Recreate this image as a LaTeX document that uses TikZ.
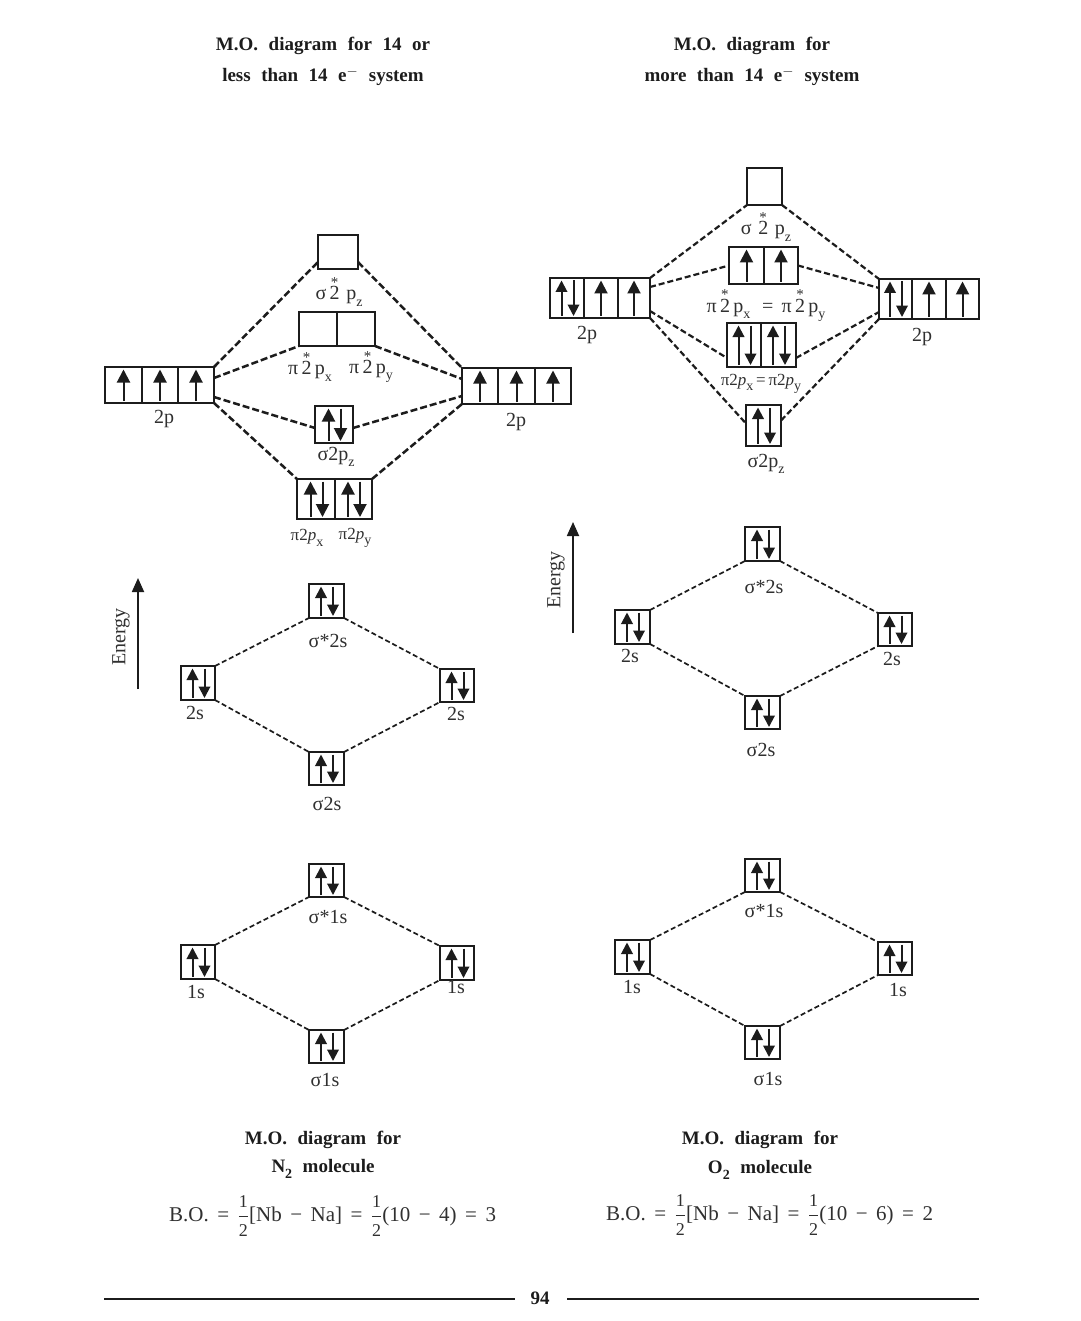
\documentclass[tikz,border=0pt]{standalone}
\usepackage{fontspec}
\setmainfont{Liberation Serif}
\usetikzlibrary{arrows.meta}
\definecolor{ink}{HTML}{1C1C1C}
\definecolor{txt}{HTML}{303030}
\newcommand\headsp{\spaceskip=10.5pt\relax}
\newcommand\bondsp{\spaceskip=8.5pt\relax}
\tikzset{x=1pt,y=-1pt,
 cellbox/.style={draw=ink,line width=2.8pt,inner sep=0pt,outer sep=0pt,anchor=north west},
 elec/.style={draw=ink,line width=2pt,-{Triangle[width=#1pt,length=#1pt]}},
 link/.style={draw=ink,line width=2.2pt,dash pattern=on 6pt off 3pt},
 linkb/.style={draw=ink,line width=2.5pt,dash pattern=on 7pt off 3pt},
 linkc/.style={draw=ink,line width=1.7pt,dash pattern=on 5pt off 2.8pt},
 lab/.style={text=txt,font=\fontsize{20}{22}\selectfont,inner sep=0pt},
 labs/.style={text=txt,font=\fontsize{17}{19}\selectfont,inner sep=0pt},
 head/.style={text=ink,font=\bfseries\fontsize{19}{21}\selectfont,inner sep=0pt,execute at begin node=\headsp},
 bond/.style={text=txt,font=\fontsize{21}{23}\selectfont,inner sep=0pt,execute at begin node=\bondsp},
 axis/.style={draw=ink,line width=1.8pt,-{Triangle[width=12pt,length=14pt]}},
 rulefoot/.style={draw=ink,line width=1.4pt}
}
% \cellnode{name}{x1}{y1}{x2}{y2}{e|u|p}
\newcommand\cellnode[6]{%
 \pgfmathsetmacro\cw{#4-#2}\pgfmathsetmacro\ch{#5-#3}%
 \node[cellbox,minimum width=\cw pt,minimum height=\ch pt] (#1) at (#2,#3) {};
 \pgfmathsetmacro\cx{(#2+#4)/2}\pgfmathsetmacro\tp{#3+2.5}\pgfmathsetmacro\bt{#5-2}%
 \if#6u\draw[elec=13] (\cx,\bt) -- (\cx,\tp);\fi
 \if#6p\pgfmathsetmacro\la{\cx-5.5}\pgfmathsetmacro\lb{\cx+6.5}%
 \pgfmathsetmacro\hs{\cw<36.5?11.5:13}%
 \draw[elec=\hs] (\la,\bt) -- (\la,\tp);\draw[elec=\hs] (\lb,\tp) -- (\lb,\bt);\fi}
\newcommand\lowz[1]{\raisebox{-0.32em}{\fontsize{14}{14}\selectfont #1}}
\newcommand\sttwo{\rlap{\raisebox{0.62em}{\kern0.06em\fontsize{15}{15}\selectfont *}}2}
\newcommand\half{\ensuremath{\displaystyle\frac{\mbox{\fontsize{18}{18}\selectfont 1}}{\mbox{\fontsize{18}{18}\selectfont 2}}}}
\newcommand\itp{\textit{p}}
\begin{document}
\begin{tikzpicture}
\useasboundingbox (0,0) rectangle (1080,1321);
\fill[white] (0,0) rectangle (1080,1321);
% titles
\node[head] (t1) at (323,46) {M.O. diagram for 14 or};
\node[head] (t2) at (323,76) {less than 14 e\textsuperscript{$-$} system};
\node[head] (t3) at (752,46) {M.O. diagram for};
\node[head] (t4) at (752,76) {more than 14 e\textsuperscript{$-$} system};
% left 2p block
\cellnode{a1}{105}{367}{142}{403}{u}
\cellnode{a2}{142}{367}{178}{403}{u}
\cellnode{a3}{178}{367}{214}{403}{u}
\cellnode{b1}{462}{368}{498}{404}{u}
\cellnode{b2}{498}{368}{535}{404}{u}
\cellnode{b3}{535}{368}{571}{404}{u}
\cellnode{c}{318}{235}{358}{269}{e}
\cellnode{d1}{299}{312}{337}{346}{e}
\cellnode{d2}{337}{312}{375}{346}{e}
\cellnode{e}{315}{406}{353}{443}{p}
\cellnode{f1}{297}{479}{335}{519}{p}
\cellnode{f2}{335}{479}{372}{519}{p}
\draw[linkb] (a3.north east) -- ([yshift=-10pt]c.west);
\draw[linkb] ([yshift=-10pt]c.east) -- (b1.north west);
\draw[linkb] ([yshift=7pt]a3.east) -- (d1.south west);
\draw[linkb] (d2.south east) -- ([yshift=7pt]b1.west);
\draw[linkb] ([yshift=-12pt]a3.east) -- ([yshift=-3.5pt]e.west);
\draw[linkb] ([yshift=-3.5pt]e.east) -- ([yshift=-10pt]b1.west);
\draw[linkb] (a3.south east) -- (f1.north west);
\draw[linkb] (f2.north east) -- (b1.south west);
\node[lab] (l1) at (339,292) {σ\,\sttwo\,\,p\lowz{z}};
\node[lab] (l2) at (310,367) {π\,\sttwo\,p\lowz{x}};
\node[lab] (l3) at (371,367) {π\,\sttwo\,p\lowz{y}};
\node[lab] (l4) at (164,419) {2p};
\node[lab] (l5) at (516,422) {2p};
\node[lab] (l6) at (336,457) {σ2p\lowz{z}};
\node[labs] (l7) at (307,538) {π2\itp\lowz{x}};
\node[labs] (l8) at (355,538) {π2\itp\lowz{y}};
% right 2p block
\begin{scope}[cellbox/.append style={line width=2.4pt}]
\cellnode{g1}{550}{278}{584}{318}{p}
\cellnode{g2}{584}{278}{618}{318}{u}
\cellnode{g3}{618}{278}{650}{318}{u}
\cellnode{h1}{879}{279}{912}{319}{p}
\cellnode{h2}{912}{279}{946}{319}{u}
\cellnode{h3}{946}{279}{979}{319}{u}
\cellnode{i}{747}{168}{782}{205}{e}
\cellnode{j1}{729}{247}{764}{284}{u}
\cellnode{j2}{764}{247}{798}{284}{u}
\cellnode{k1}{727}{323}{761}{367}{p}
\cellnode{k2}{761}{323}{796}{367}{p}
\cellnode{m}{746}{405}{781}{446}{p}
\end{scope}
\draw[link] (g3.north east) -- (i.south west);
\draw[link] (i.south east) -- (h1.north west);
\draw[link] ([yshift=11pt]g3.east) -- (j1.west);
\draw[link] (j2.east) -- ([yshift=11pt]h1.west);
\draw[link] ([yshift=-13pt]g3.east) -- ([yshift=9pt]k1.south west);
\draw[link] ([yshift=9pt]k2.south east) -- ([yshift=-13pt]h1.west);
\draw[link] (g3.south east) -- ([yshift=2pt]m.west);
\draw[link] ([yshift=5pt]m.east) -- (h1.south west);
\node[lab] (r1) at (766,227) {σ\,\,\sttwo\,\,p\lowz{z}};
\node[lab] (r2) at (766,306) {π\,\sttwo\,p\lowz{x}\,\, = \,π\,\sttwo\,p\lowz{y}};
\node[lab] (r3) at (587,335) {2p};
\node[lab] (r4) at (922,337) {2p};
\node[labs] (r5) at (761,384) {π2\itp\lowz{x}\,=\,π2\itp\lowz{y}};
\node[lab] (r6) at (766,464) {σ2p\lowz{z}};
% energy axes
\coordinate (ea0) at (138,689);\coordinate (ea1) at (138,578);
\coordinate (eb0) at (573,633);\coordinate (eb1) at (573,522);
\draw[axis] (ea0) -- (ea1);
\draw[axis] (eb0) -- (eb1);
\node[lab,rotate=90] (en1) at (121,637) {Energy};
\node[lab,rotate=90] (en2) at (556,580) {Energy};
% left 2s
\cellnode{n1}{309}{584}{344}{618}{p}
\cellnode{n2}{181}{666}{215}{700}{p}
\cellnode{n3}{440}{669}{474}{702}{p}
\cellnode{n4}{309}{752}{344}{785}{p}
\draw[linkc] (n2.north east) -- (n1.south west);
\draw[linkc] (n1.south east) -- (n3.north west);
\draw[linkc] (n2.south east) -- (n4.north west);
\draw[linkc] (n4.north east) -- (n3.south west);
\node[lab] at (328,641) (n1l) {σ*2s};
\node[lab] at (195,713) (n2l) {2s};
\node[lab] at (456,714) (n3l) {2s};
\node[lab] at (327,804) (n4l) {σ2s};
% left 1s
\cellnode{o1}{309}{864}{344}{897}{p}
\cellnode{o2}{181}{945}{215}{979}{p}
\cellnode{o3}{440}{946}{474}{980}{p}
\cellnode{o4}{309}{1030}{344}{1063}{p}
\draw[linkc] (o2.north east) -- (o1.south west);
\draw[linkc] (o1.south east) -- (o3.north west);
\draw[linkc] (o2.south east) -- (o4.north west);
\draw[linkc] (o4.north east) -- (o3.south west);
\node[lab] at (328,917) (o1l) {σ*1s};
\node[lab] at (196,992) (o2l) {1s};
\node[lab] at (456,987) (o3l) {1s};
\node[lab] at (325,1080) (o4l) {σ1s};
% right 2s
\cellnode{q1}{745}{527}{780}{561}{p}
\cellnode{q2}{615}{610}{650}{644}{p}
\cellnode{q3}{878}{613}{912}{646}{p}
\cellnode{q4}{745}{696}{780}{729}{p}
\draw[linkc] (q2.north east) -- (q1.south west);
\draw[linkc] (q1.south east) -- (q3.north west);
\draw[linkc] (q2.south east) -- (q4.north west);
\draw[linkc] (q4.north east) -- (q3.south west);
\node[lab] at (764,587) (q1l) {σ*2s};
\node[lab] at (630,656) (q2l) {2s};
\node[lab] at (892,659) (q3l) {2s};
\node[lab] at (761,750) (q4l) {σ2s};
% right 1s
\cellnode{s1}{745}{859}{780}{892}{p}
\cellnode{s2}{615}{940}{650}{974}{p}
\cellnode{s3}{878}{942}{912}{975}{p}
\cellnode{s4}{745}{1026}{780}{1059}{p}
\draw[linkc] (s2.north east) -- (s1.south west);
\draw[linkc] (s1.south east) -- (s3.north west);
\draw[linkc] (s2.south east) -- (s4.north west);
\draw[linkc] (s4.north east) -- (s3.south west);
\node[lab] at (764,911) (s1l) {σ*1s};
\node[lab] at (632,987) (s2l) {1s};
\node[lab] at (898,990) (s3l) {1s};
\node[lab] at (768,1079) (s4l) {σ1s};
% captions
\node[head] (c1) at (323,1140) {M.O. diagram for};
\node[head] (c2) at (323,1169) {N\lowz{\textbf{2}} molecule};
\node[head] (c3) at (760,1140) {M.O. diagram for};
\node[head] (c4) at (760,1170) {O\lowz{\textbf{2}} molecule};
\node[bond,anchor=west] (bo1) at (169,1216) {B.O. = \half[Nb − Na] = \half(10 − 4) = 3};
\node[bond,anchor=west] (bo2) at (606,1215) {B.O. = \half[Nb − Na] = \half(10 − 6) = 2};
% footer
\node[head] (pg) at (540,1298) {94};
\coordinate (fa) at (104,1299);\coordinate (fb) at (515,1299);
\coordinate (fc) at (567,1299);\coordinate (fd) at (979,1299);
\draw[rulefoot] (fa) -- (fb);
\draw[rulefoot] (fc) -- (fd);
\end{tikzpicture}
\end{document}
